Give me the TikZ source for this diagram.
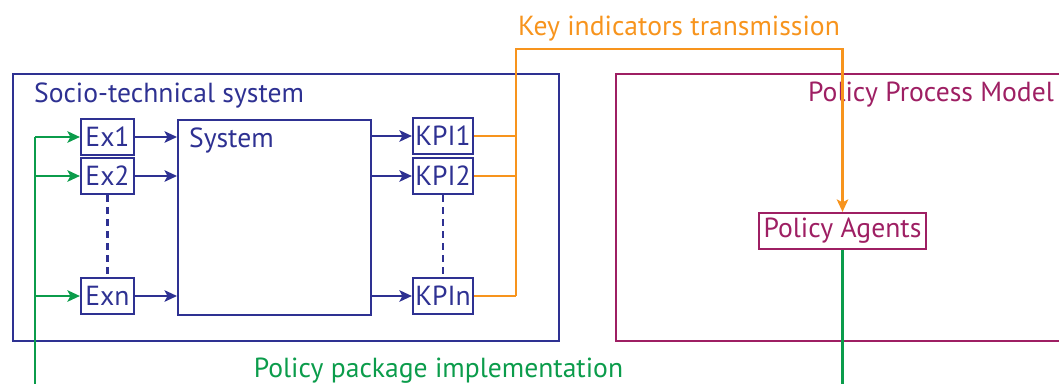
\documentclass[tikz,border=0pt]{standalone}
\usepackage{fontspec}
\setmainfont{PT Sans}
\usetikzlibrary{arrows.meta,calc}
\definecolor{stsblue}{HTML}{2E3192}
\definecolor{ppmpurple}{HTML}{9E1F63}
\definecolor{kitorange}{HTML}{F7941D}
\definecolor{ppigreen}{HTML}{0B9C4B}

\begin{document}
\begin{tikzpicture}[x=1pt,y=-1pt,line width=2.2pt,
  lbl/.style={font=\fontsize{27.6}{32}\selectfont,inner sep=0pt},
  box/.style={draw,inner sep=0pt,minimum height=36pt,font=\fontsize{27.6}{32}\selectfont},
  exbox/.style={box,stsblue,text=stsblue,minimum width=53pt},
  kpibox/.style={box,stsblue,text=stsblue,minimum width=60pt},
  arr/.style={-{Stealth[length=12.5pt,width=11.5pt,inset=3pt]}},
  dots/.style={dash pattern=on 7pt off 5pt}]
\useasboundingbox (0,0) rectangle (1059,383);
\clip (0,0) rectangle (1059,383);

% frames of the two models
\node[draw=stsblue,inner sep=0pt,minimum width=546pt,minimum height=267pt,anchor=north west] (sts) at (12,73) {};
\node[lbl,text=stsblue,anchor=base west] (ststitle) at (33,102) {Socio-technical system};
\node[draw=ppmpurple,inner sep=0pt,minimum width=460pt,minimum height=267pt,anchor=north west] (ppm) at (615,73) {};
\node[lbl,text=ppmpurple,anchor=base east] (ppmtitle) at (1055,101) {Policy Process Model};

% system block
\node[draw=stsblue,inner sep=0pt,minimum width=193pt,minimum height=195pt,anchor=north west] (sys) at (177,119) {};
\node[lbl,text=stsblue,anchor=base west] (systitle) at (188,147) {System};

% exogenous inputs
\node[exbox] (ex1) at (107.5,137) {Ex1};
\node[exbox] (ex2) at (107.5,176) {Ex2};
\node[exbox] (exn) at (107.5,296) {Exn};

% key performance indicators
\node[kpibox] (kpi1) at (443,136) {KPI1};
\node[kpibox] (kpi2) at (443,176) {KPI2};
\node[kpibox] (kpin) at (443,296) {KPIn};

% policy agents
\node[box,ppmpurple,text=ppmpurple,minimum width=167pt] (pa) at (842.5,231) {Policy Agents};

% inputs into the system, outputs to indicators
\begin{scope}[stsblue]
\foreach \e in {ex1,ex2,exn}
  \draw[arr] (\e.east) -- (sys.west |- \e);
\foreach \k in {kpi1,kpi2,kpin}
  \draw[arr] (sys.east |- \k) -- (\k.west);
\draw[dots] (ex2.south) -- (exn.north);
\draw[dots] (kpi2.south) -- (kpin.north);
\end{scope}

% key indicators transmission
\coordinate (kit) at (516,49);
\begin{scope}[kitorange]
\foreach \k in {kpi1,kpi2,kpin}
  \draw (\k.east) -- (kit |- \k);
\draw[arr] (kit |- kpin) -- (kit) -- (pa.north |- kit) -- (pa.north);
\node[lbl,text=kitorange,anchor=base] (kittitle) at (679,35) {Key indicators transmission};
\end{scope}

% policy package implementation
\coordinate (ppl) at (35,395);
\begin{scope}[ppigreen]
\draw (ppl) -- (ppl |- ex1);
\foreach \e in {ex1,ex2,exn}
  \draw[arr] (ppl |- \e) -- (\e.west);
\draw (pa.south) -- (pa.south |- ppl);
\node[lbl,text=ppigreen,anchor=base] (ppititle) at (438.5,377) {Policy package implementation};
\end{scope}
\end{tikzpicture}
\end{document}
